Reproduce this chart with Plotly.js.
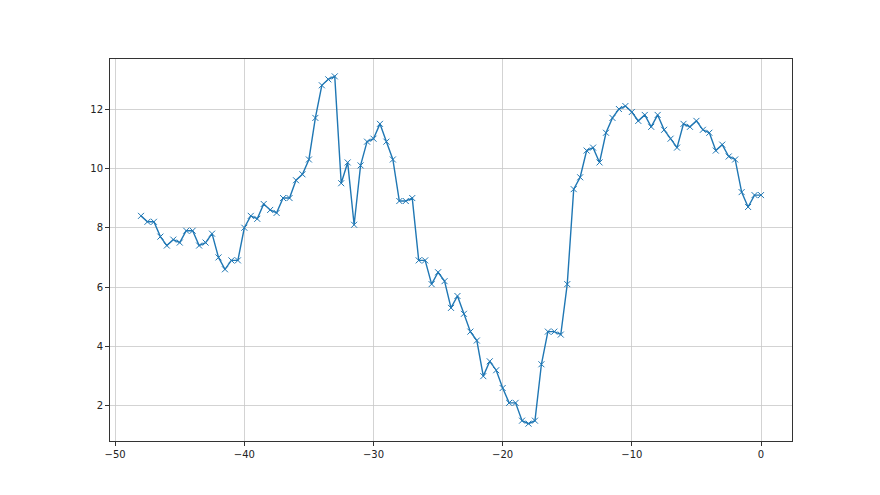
<!DOCTYPE html>
<html>
<head>
<meta charset="utf-8">
<script src="https://cdn.plot.ly/plotly-3.0.1.min.js"></script>
<style>html,body{margin:0;padding:0;background:#fff;}#chart{width:880px;height:495px;}</style>
</head>
<body>
<div id="chart"></div>
<script>
const xValues = [
  -48, -47.5, -47, -46.5, -46, -45.5, -45, -44.5, -44, -43.5, -43, -42.5, -42, -41.5, -41, -40.5, -40,
  -39.5, -39, -38.5, -38, -37.5, -37, -36.5, -36, -35.5, -35, -34.5, -34, -33.5, -33, -32.5, -32, -31.5, -31, -30.5, -30,
  -29.5, -29, -28.5, -28, -27.5, -27, -26.5, -26, -25.5, -25, -24.5, -24, -23.5, -23, -22.5, -22, -21.5, -21, -20.5, -20,
  -19.5, -19, -18.5, -18, -17.5, -17, -16.5, -16, -15.5, -15, -14.5, -14, -13.5, -13, -12.5, -12, -11.5, -11, -10.5, -10,
  -9.5, -9, -8.5, -8, -7.5, -7, -6.5, -6, -5.5, -5, -4.5, -4, -3.5, -3, -2.5, -2, -1.5, -1, -0.5, 0
];
const yValues = [
  8.4, 8.2, 8.2, 7.7, 7.4, 7.6, 7.5, 7.9, 7.9, 7.4, 7.5, 7.8, 7.0, 6.6, 6.9, 6.9, 8.0,
  8.4, 8.3, 8.8, 8.6, 8.5, 9.0, 9.0, 9.6, 9.8, 10.3, 11.7, 12.8, 13.0, 13.1, 9.5, 10.2, 8.1, 10.1, 10.9, 11.0,
  11.5, 10.9, 10.3, 8.9, 8.9, 9.0, 6.9, 6.9, 6.1, 6.5, 6.2, 5.3, 5.7, 5.1, 4.5, 4.2, 3.0, 3.5, 3.2, 2.6,
  2.1, 2.1, 1.5, 1.4, 1.5, 3.4, 4.5, 4.5, 4.4, 6.1, 9.3, 9.7, 10.6, 10.7, 10.2, 11.2, 11.7, 12.0, 12.1, 11.9,
  11.6, 11.8, 11.4, 11.8, 11.3, 11.0, 10.7, 11.5, 11.4, 11.6, 11.3, 11.2, 10.6, 10.8, 10.4, 10.3, 9.2, 8.7, 9.1, 9.1
];
const xTicks = [-50, -40, -30, -20, -10, 0];
const yTicks = [2, 4, 6, 8, 10, 12];

const trace = {
  x: xValues, y: yValues, type: 'scatter', mode: 'lines+markers',
  line: {color: '#1f77b4', width: 1.4},
  marker: {symbol: 'x-thin-open', size: 6, color: '#1f77b4', line: {color: '#1f77b4', width: 1}},
  hoverinfo: 'skip'
};
const axisCommon = {
  showgrid: true, gridcolor: '#c8c8c8', gridwidth: 0.8,
  zeroline: false, showline: true, linecolor: '#333', linewidth: 1, mirror: true,
  ticks: 'outside', ticklen: 4, tickwidth: 1, tickcolor: '#333',
  tickfont: {family: 'DejaVu Sans', size: 10, color: '#222'}
};
const layout = {
  width: 880, height: 495,
  margin: {l: 110, r: 88, t: 59, b: 54},
  paper_bgcolor: '#fff', plot_bgcolor: '#fff',
  showlegend: false,
  xaxis: Object.assign({}, axisCommon, {range: [-50.4, 2.4], tickvals: xTicks, ticktext: xTicks.map(v => v < 0 ? '\u2212' + Math.abs(v) : String(v))}),
  yaxis: Object.assign({}, axisCommon, {range: [0.815, 13.685], tickvals: yTicks, ticktext: yTicks.map(String)})
};
Plotly.newPlot('chart', [trace], layout, {staticPlot: true, displayModeBar: false});
</script>
</body>
</html>
